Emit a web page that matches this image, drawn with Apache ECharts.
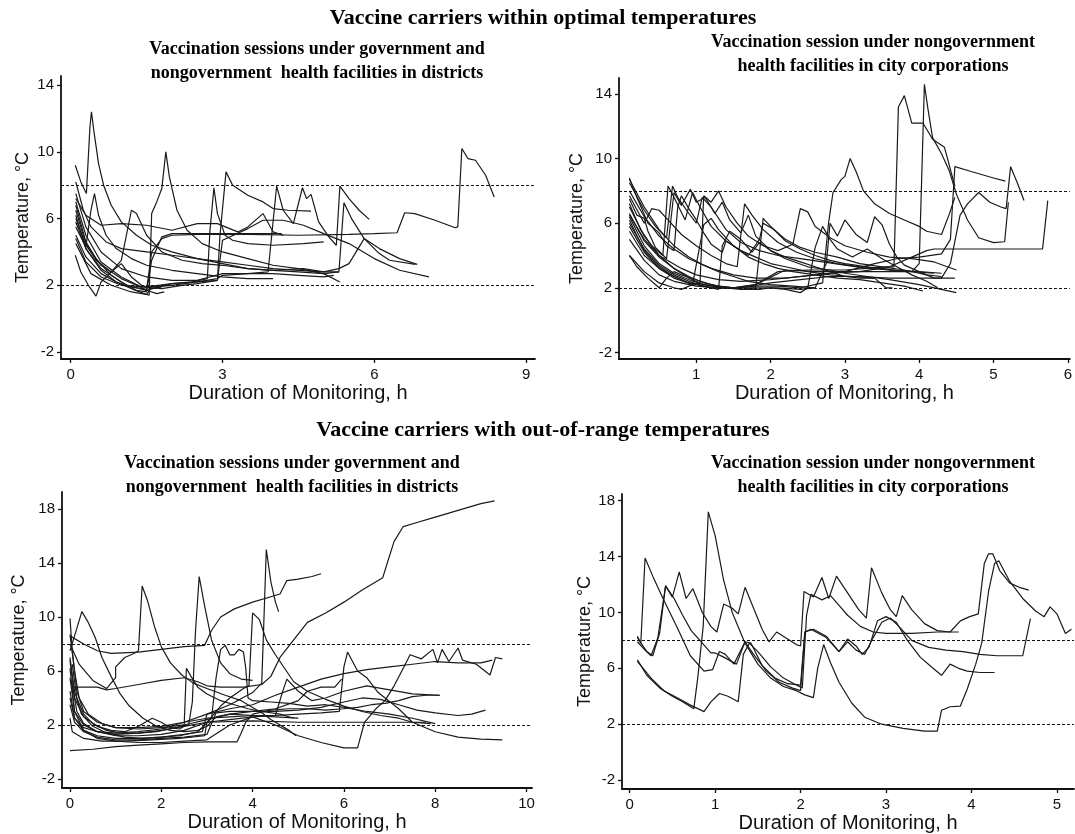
<!DOCTYPE html>
<html>
<head>
<meta charset="utf-8">
<script src="https://cdn.jsdelivr.net/npm/echarts@6/dist/echarts.min.js"></script>
<style>
  html, body { margin: 0; padding: 0; background: #fff; }
  #chart { width: 1075px; height: 834px; }
</style>
</head>
<body>
<div id="chart"></div>
<script>
// tick values per panel
const p1XTicks = [0, 3, 6, 9];
const p2XTicks = [1, 2, 3, 4, 5, 6];
const p3XTicks = [0, 2, 4, 6, 8, 10];
const p4XTicks = [0, 1, 2, 3, 4, 5];
const topYTicks = [-2, 2, 6, 10, 14];
const bottomYTicks = [-2, 2, 6, 10, 14, 18];
const limits = [8, 2];

// panel 1: within range, districts  [hours, temp]
const p1Lines = [
  [[0.09,3.8],[0.2,2.8],[0.35,2.0],[0.5,1.35],[0.6,2.2],[0.8,2.8],[1.0,3.3],[1.2,2.5],[1.4,2.0],[1.6,1.8],[1.8,1.9]],
  [[0.09,9.2],[0.2,8.2],[0.31,7.5],[0.38,11.5],[0.41,12.4],[0.46,11.2],[0.55,9.3],[0.65,8.0],[0.8,6.8],[1.0,5.8],[1.3,5.0],[1.6,4.4],[2.0,4.0],[2.5,3.6],[3.0,3.3],[3.5,3.0],[4.0,2.9],[4.5,2.8],[5.0,2.7],[5.3,2.8],[5.4,6.95],[5.55,6.0],[5.8,4.8],[6.1,3.9],[6.3,3.5],[6.81,3.25]],
  [[0.1,6.2],[0.3,4.2],[0.6,2.9],[0.9,2.2],[1.2,1.8],[1.45,1.5],[1.55,1.4],[1.6,6.3],[1.7,7.0],[1.8,7.8],[1.88,10.0],[1.95,8.5],[2.1,6.5],[2.3,5.3],[2.6,4.5],[3.0,4.0],[3.5,3.6],[4.0,3.2],[4.5,3.0],[5.0,2.7],[5.32,2.2]],
  [[0.1,7.0],[0.3,5.0],[0.6,3.4],[1.0,2.5],[1.4,1.9],[1.8,1.8],[2.2,2.0],[2.5,2.1],[2.9,2.3],[2.95,5.0],[3.07,8.8],[3.2,8.0],[3.5,7.4],[3.8,7.0],[4.0,6.6],[4.3,6.5],[4.75,6.45]],
  [[0.1,6.8],[0.3,4.6],[0.5,3.6],[0.8,2.6],[1.1,2.0],[1.5,1.7],[2.0,2.1],[2.4,2.2],[2.7,2.4],[2.75,5.2],[2.83,7.85],[2.9,6.3],[3.05,5.0],[3.2,4.7],[3.5,4.5],[4.0,4.4],[4.6,4.5],[5.0,4.6]],
  [[0.1,7.5],[0.3,5.5],[0.6,4.0],[1.0,3.0],[1.5,2.5],[2.0,2.3],[2.5,2.3],[3.0,2.7],[3.5,2.7],[3.9,2.8],[4.07,7.95],[4.2,6.5],[4.4,5.7],[4.58,7.85],[4.66,7.2],[4.75,7.45],[4.9,5.8],[5.1,4.9],[5.25,4.4],[5.32,7.95],[5.5,7.2],[5.7,6.5],[5.9,5.95]],
  [[0.1,5.0],[0.3,3.7],[0.6,2.7],[0.9,2.2],[1.2,1.9],[1.5,1.75],[1.6,4.0],[1.8,4.8],[2.0,5.0],[2.5,5.05],[3.5,5.05],[4.5,5.0],[5.5,5.05],[6.0,5.1],[6.45,5.15],[6.6,6.35],[6.8,6.3],[7.2,5.9],[7.6,5.45],[7.65,5.5],[7.73,10.2],[7.85,9.6],[8.0,9.5],[8.2,8.6],[8.37,7.3]],
  [[0.1,4.8],[0.3,3.4],[0.6,2.5],[1.0,2.0],[1.5,1.9],[2.0,2.1],[2.5,2.2],[2.9,2.3],[3.0,4.7],[3.5,5.4],[3.8,5.9],[4.2,5.9],[4.6,5.6],[5.0,5.1],[5.5,4.5],[6.0,3.6],[6.5,2.9],[7.08,2.5]],
  [[0.1,6.5],[0.3,4.5],[0.5,3.5],[0.8,2.8],[1.0,3.5],[1.2,6.5],[1.3,6.3],[1.5,5.0],[1.8,4.0],[2.2,3.5],[2.6,3.3],[3.0,3.2],[3.5,3.0],[4.0,2.9],[4.6,3.0],[5.0,2.8],[5.3,2.8]],
  [[0.1,5.5],[0.3,4.3],[0.4,6.5],[0.47,7.5],[0.55,6.2],[0.7,5.0],[0.9,4.2],[1.2,3.6],[1.5,3.2],[2.0,2.9],[2.5,2.7],[3.0,2.5],[3.5,2.4],[4.0,2.4]],
  [[0.1,7.2],[0.3,6.2],[0.6,5.6],[1.0,5.7],[1.5,5.6],[2.0,5.3],[2.5,5.7],[2.9,5.7],[3.3,5.2],[3.5,5.5],[3.8,6.3],[4.0,5.2],[4.2,5.0]],
  [[0.1,8.2],[0.25,6.5],[0.4,5.5],[0.7,4.6],[1.0,4.2],[1.5,4.0],[2.0,3.8],[2.5,3.6],[3.0,3.4],[3.5,3.2],[4.0,3.0],[4.5,2.9],[5.0,2.8],[5.3,3.0],[5.5,3.3],[5.8,4.8],[6.1,4.2],[6.5,3.6],[6.85,3.25]],
  [[0.1,5.8],[0.3,4.2],[0.6,3.0],[1.0,2.2],[1.3,1.7],[1.5,1.6],[1.6,3.5],[1.8,4.9],[2.0,5.1],[3.0,5.1],[4.17,5.1]],
  [[0.1,4.5],[0.4,2.7],[0.8,2.0],[1.2,1.6],[1.5,1.45],[1.6,1.9],[2.0,2.0],[2.5,2.2],[2.9,2.4],[3.0,2.6],[3.5,2.7],[4.0,2.7],[4.5,2.6],[5.0,2.5],[5.2,2.6]],
  [[0.1,6.0],[0.3,4.4],[0.6,3.2],[1.0,2.4],[1.3,2.0],[1.5,1.7],[1.7,1.5],[1.85,1.6]]
];

// panel 2: within range, city corporations
const p2Lines = [
  [[0.1,8.7],[0.3,7.0],[0.5,5.6],[0.7,4.6],[0.9,3.9],[1.1,3.4],[1.3,3.0],[1.5,2.7],[1.7,2.4],[2.0,2.2],[2.3,2.1],[2.6,2.0]],
  [[0.1,8.5],[0.3,6.8],[0.45,5.8],[0.6,5.1],[0.68,8.3],[0.75,7.6],[0.9,6.6],[1.0,6.0],[1.08,7.6],[1.2,7.0],[1.4,5.6],[1.6,4.8],[1.85,4.3],[2.1,4.0],[2.4,3.8],[2.7,3.6],[3.0,3.4],[3.3,3.2],[3.6,3.1],[3.9,3.0],[4.2,2.9]],
  [[0.1,7.7],[0.3,6.0],[0.4,6.9],[0.5,6.8],[0.6,6.3],[0.8,5.3],[1.0,4.6],[1.2,4.0],[1.4,3.5],[1.55,3.3],[1.65,7.2],[1.75,6.5],[1.9,5.6],[2.1,4.8],[2.35,4.2],[2.6,3.8],[2.9,3.5],[3.2,3.3],[3.5,3.2],[3.8,3.0]],
  [[0.1,7.2],[0.25,5.6],[0.4,4.6],[0.55,4.0],[0.62,8.3],[0.7,7.6],[0.85,6.2],[0.95,7.9],[1.05,7.0],[1.2,5.8],[1.4,4.9],[1.6,4.3],[1.8,3.9],[2.0,3.5],[2.2,3.3],[2.5,3.0],[2.8,2.8],[3.1,2.7],[3.4,2.6]],
  [[0.1,7.0],[0.3,5.2],[0.5,4.0],[0.7,3.2],[0.9,2.6],[1.05,2.3],[1.1,7.7],[1.2,7.3],[1.3,8.0],[1.4,7.0],[1.55,6.0],[1.7,5.2],[1.9,4.6],[2.1,4.3],[2.3,4.7],[2.4,6.9],[2.5,6.7],[2.6,5.8],[2.8,5.1],[3.0,4.6],[3.3,4.2],[3.6,3.9],[3.9,3.8],[4.2,3.6],[4.5,3.1]],
  [[0.1,6.6],[0.3,4.9],[0.5,3.9],[0.7,3.2],[0.9,2.7],[1.1,2.3],[1.3,2.1],[1.5,2.0],[1.65,1.9],[1.8,2.0],[1.9,6.3],[2.0,5.8],[2.2,4.9],[2.4,4.4],[2.6,4.0],[2.8,3.7],[3.0,3.5],[3.3,3.3],[3.6,3.1],[4.0,3.0],[4.3,2.9]],
  [[0.1,6.4],[0.3,4.6],[0.5,3.5],[0.7,2.9],[0.9,2.5],[1.1,2.2],[1.3,2.1],[1.5,2.0],[1.8,2.0],[2.1,2.0],[2.4,1.9],[2.6,2.0],[2.75,3.5],[2.8,6.0],[2.9,5.2],[3.0,6.2],[3.15,5.3],[3.3,4.8],[3.4,6.4],[3.5,5.9],[3.6,4.7],[3.7,3.9],[3.8,3.4],[4.0,3.0],[4.2,2.6],[4.48,2.6]],
  [[0.1,6.2],[0.3,4.3],[0.5,3.3],[0.7,2.7],[0.9,2.3],[1.2,2.0],[1.5,2.0],[1.8,2.1],[2.1,2.1],[2.4,2.0],[2.7,2.3],[2.78,6.0],[2.84,7.9],[2.95,8.7],[3.0,8.9],[3.07,10.0],[3.15,9.2],[3.25,8.0],[3.4,7.2],[3.6,6.6],[3.8,6.2],[4.0,5.8],[4.1,5.5],[4.3,5.3],[4.4,6.5],[4.48,7.6]],
  [[0.1,5.5],[0.3,4.0],[0.5,3.2],[0.7,2.7],[0.9,2.3],[1.2,2.0],[1.5,2.0],[1.8,2.2],[2.1,3.0],[2.5,3.1],[3.0,3.1],[3.3,3.2],[3.55,3.3],[3.66,3.3],[3.72,13.2],[3.8,13.9],[3.9,12.2],[4.05,12.2],[4.18,11.2],[4.34,10.7],[4.48,8.3]],
  [[0.1,4.0],[0.3,3.0],[0.5,2.3],[0.7,2.0],[0.8,1.9],[1.0,2.3],[1.2,2.1],[1.5,2.0],[1.8,2.2],[2.2,3.1],[2.6,3.0],[3.0,3.0],[3.5,3.0],[3.9,3.0],[4.0,3.5],[4.07,14.6],[4.12,13.0],[4.18,11.3],[4.3,10.3],[4.4,9.3],[4.5,7.8],[4.65,6.2],[4.8,5.1],[5.0,4.8],[5.15,4.85],[5.2,7.3]],
  [[0.1,8.0],[0.3,6.4],[0.5,5.2],[0.7,4.4],[0.9,3.8],[1.2,3.2],[1.5,2.8],[1.8,2.6],[2.2,2.6],[2.6,2.8],[3.0,3.0],[3.4,3.5],[3.7,3.8],[4.0,3.9],[4.3,4.1],[4.42,5.0],[4.48,9.5],[4.7,9.2],[5.0,8.8],[5.16,8.6]],
  [[0.1,6.5],[0.3,5.0],[0.5,4.0],[0.8,3.2],[1.0,2.8],[1.3,2.5],[1.6,2.4],[2.0,2.5],[2.4,2.7],[2.8,2.9],[3.2,3.0],[3.6,3.3],[3.9,3.9],[4.1,4.3],[4.2,4.4],[4.5,4.4],[5.0,4.4],[5.66,4.4],[5.73,7.4]],
  [[0.1,5.0],[0.3,3.7],[0.5,2.8],[0.7,2.4],[1.0,2.1],[1.3,2.0],[1.6,2.0],[2.0,2.3],[2.4,2.5],[2.8,2.7],[3.2,2.7],[3.6,2.6],[4.0,2.6],[4.3,2.6],[4.42,3.5],[4.55,6.5],[4.65,7.2],[4.8,7.9],[4.95,7.3],[5.1,7.0],[5.17,6.9],[5.23,9.5],[5.32,8.5],[5.41,7.4]],
  [[0.1,7.5],[0.2,6.5],[0.3,6.3],[0.35,5.5],[0.45,4.5],[0.6,3.8],[0.7,7.9],[0.8,7.1],[0.92,8.1],[1.0,7.3],[1.12,7.6],[1.25,6.6],[1.35,7.3],[1.45,6.2],[1.6,5.4],[1.7,6.5],[1.8,5.2],[2.0,4.3],[2.2,3.8],[2.5,3.3],[2.8,3.1],[3.0,2.9],[3.3,2.7],[3.6,2.5],[4.0,2.2],[4.5,1.7]],
  [[0.1,5.8],[0.3,4.2],[0.5,3.2],[0.7,2.6],[0.95,2.2],[1.1,5.9],[1.2,6.3],[1.3,5.6],[1.5,4.6],[1.7,3.9],[1.9,3.5],[2.1,3.2],[2.3,3.0],[2.6,2.8],[2.9,2.6],[3.2,2.5],[3.5,2.3],[3.8,2.1],[4.05,1.8]],
  [[0.1,6.0],[0.3,4.4],[0.5,3.4],[0.7,2.8],[0.9,2.4],[1.1,2.1],[1.3,1.9],[1.35,4.6],[1.45,5.5],[1.6,5.0],[1.75,4.2],[1.85,4.8],[2.0,4.3],[2.2,3.9],[2.4,3.6],[2.6,3.3],[2.8,3.0],[3.0,2.7],[3.2,2.6],[3.4,2.6],[3.55,2.0],[3.64,2.0]],
  [[0.1,4.0],[0.2,3.3],[0.35,2.6],[0.5,2.0],[0.6,2.6],[0.7,3.0],[0.8,2.8],[1.0,2.5],[1.2,2.2],[1.4,2.0],[1.6,1.9],[1.85,1.9],[2.0,2.0],[2.2,1.9],[2.4,1.7],[2.5,2.0],[2.6,4.5],[2.7,5.8],[2.8,5.0],[2.9,4.4],[3.1,3.9],[3.3,4.4],[3.5,3.8],[3.7,3.3],[3.9,2.8],[4.1,2.4],[4.25,2.0]],
  [[0.1,8.8],[0.2,7.6],[0.35,6.0],[0.5,5.4],[0.6,4.6],[0.7,4.3],[0.75,7.0],[0.8,7.7],[0.9,6.9],[1.0,6.2],[1.1,5.4],[1.2,4.7],[1.35,4.2],[1.4,4.9],[1.5,4.6],[1.7,4.0],[1.85,5.0],[1.9,6.0],[2.05,5.6],[2.2,5.0],[2.4,4.5],[2.6,4.2],[2.9,3.9],[3.2,3.5],[3.5,3.3],[3.8,3.1],[4.1,2.8],[4.3,2.7]]
];

// panel 3: out of range, districts
const p3Lines = [
  [[0.05,4.8],[0.3,4.8],[0.6,4.8],[0.8,4.6],[1.0,4.7],[1.5,5.0],[2.0,5.3],[2.5,5.5],[2.8,5.2],[3.0,4.9],[3.3,4.8],[3.8,4.8],[4.2,5.0],[4.4,5.6],[4.6,7.0],[4.9,8.3],[5.2,9.6],[5.6,10.3],[6.0,11.1],[6.4,12.0],[6.85,12.9],[6.95,14.0],[7.1,15.6],[7.3,16.7],[7.6,17.0],[8.0,17.4],[8.5,17.9],[9.0,18.4],[9.3,18.6]],
  [[0.0,8.6],[0.3,8.0],[0.6,7.5],[0.9,7.3],[1.5,7.4],[2.0,7.6],[2.5,7.8],[2.95,7.9],[3.1,9.0],[3.3,10.0],[3.6,10.6],[4.0,11.1],[4.4,11.5],[4.6,11.7],[4.75,12.7],[5.0,12.8],[5.3,13.0],[5.5,13.2]],
  [[0.0,7.5],[0.1,8.6],[0.26,10.4],[0.4,9.6],[0.55,8.5],[0.7,7.0],[0.9,5.6],[1.1,4.3],[1.3,3.4],[1.6,2.5],[1.9,1.9],[2.2,1.6],[2.5,1.5],[2.8,1.6],[3.0,1.9],[3.2,2.6],[3.5,2.8],[4.0,2.7],[4.5,2.6],[5.0,2.5]],
  [[0.0,8.0],[0.2,6.5],[0.5,5.3],[0.8,4.7],[1.0,5.5],[1.0,6.3],[1.2,7.0],[1.4,7.3],[1.5,7.5],[1.58,12.3],[1.7,11.2],[1.85,9.3],[2.0,7.8],[2.2,6.6],[2.45,5.7],[2.7,5.1],[3.0,4.7],[3.4,4.2],[3.75,3.8],[4.0,3.3],[4.2,2.9],[4.4,2.4],[4.6,2.0],[4.8,1.6],[4.95,1.2]],
  [[0.05,6.5],[0.15,4.0],[0.3,2.8],[0.5,2.1],[0.8,1.6],[1.1,1.4],[1.5,1.4],[1.9,1.5],[2.3,1.8],[2.6,2.0],[2.68,3.7],[2.75,9.0],[2.83,13.0],[2.95,10.8],[3.1,8.3],[3.3,6.6],[3.5,5.8],[3.75,5.4],[4.0,5.3]],
  [[0.0,8.7],[0.1,6.0],[0.2,4.0],[0.4,2.8],[0.7,2.1],[1.0,1.8],[1.5,1.8],[2.0,1.9],[2.5,2.2],[3.0,2.8],[3.5,3.5],[4.0,4.4],[4.2,5.1],[4.25,10.0],[4.3,15.0],[4.4,12.6],[4.5,11.1],[4.57,10.4]],
  [[0.05,5.0],[0.15,3.0],[0.3,2.1],[0.6,1.5],[1.0,1.2],[1.5,1.2],[2.0,1.3],[2.5,1.6],[3.0,2.2],[3.3,3.4],[3.5,4.0],[3.8,4.7],[3.92,4.9],[4.0,10.3],[4.15,9.8],[4.3,8.3],[4.5,7.2],[4.7,6.2],[4.9,5.2],[5.2,4.5],[5.6,3.9],[6.0,3.4],[6.4,3.0],[6.8,2.7],[7.2,2.5],[7.5,2.2],[7.9,2.1]],
  [[0.0,7.0],[0.1,4.5],[0.25,2.8],[0.5,1.9],[0.8,1.4],[1.2,1.1],[1.6,1.0],[2.0,1.1],[2.4,1.2],[2.8,1.5],[3.1,2.5],[3.2,5.5],[3.3,7.6],[3.4,7.9],[3.5,7.2],[3.6,7.2],[3.7,7.6],[3.8,7.4],[3.85,6.2],[3.9,4.0],[4.0,3.8],[4.4,3.7],[4.8,3.6],[5.2,3.4],[5.6,3.5],[6.0,3.3],[6.5,3.0],[7.0,2.8],[7.5,2.5],[8.0,2.1]],
  [[0.0,0.1],[0.5,0.2],[1.0,0.4],[1.5,0.5],[2.0,0.6],[2.5,0.7],[3.0,0.75],[3.66,0.75],[3.75,1.4],[3.85,2.2],[4.0,2.8],[4.4,3.1],[4.8,3.2],[5.2,3.2],[5.6,3.1],[6.0,3.2],[6.3,3.3],[6.6,3.5],[6.9,3.6],[7.2,3.8],[7.5,4.1],[7.8,4.2],[8.1,4.2]],
  [[0.0,6.2],[0.1,3.0],[0.3,1.6],[0.6,1.0],[1.0,0.8],[1.5,0.7],[2.0,0.7],[2.5,0.8],[3.0,0.9],[3.5,2.0],[4.0,2.6],[4.5,2.0],[5.0,1.2],[5.5,0.7],[6.0,0.3],[6.3,0.3],[6.45,2.2],[6.7,3.2],[6.9,3.8],[7.1,4.9],[7.3,6.2],[7.45,7.2],[7.7,6.9],[7.95,7.6],[8.05,6.6],[8.15,7.6],[8.3,6.7],[8.5,7.7],[8.6,6.8],[8.9,6.5],[9.2,5.7],[9.32,7.0],[9.47,6.9]],
  [[0.0,5.5],[0.1,3.0],[0.3,2.0],[0.6,1.5],[1.0,1.3],[1.5,1.4],[2.0,1.6],[2.5,1.9],[3.0,2.2],[3.5,2.4],[4.0,2.6],[4.5,2.7],[5.0,2.8],[5.5,2.9],[5.9,3.0],[6.0,6.3],[6.08,7.4],[6.3,6.0],[6.5,5.5],[6.75,4.4],[7.2,3.2],[7.5,2.2],[8.0,1.5],[8.5,1.1],[9.0,0.95],[9.47,0.9]],
  [[0.0,4.5],[0.1,2.5],[0.3,1.6],[0.6,1.2],[1.0,1.0],[1.5,1.0],[2.0,1.1],[2.5,1.3],[2.9,1.5],[3.0,2.8],[3.5,3.2],[4.0,3.5],[4.5,4.2],[5.0,4.8],[5.5,5.4],[6.0,5.8],[6.5,6.1],[7.0,6.3],[7.5,6.5],[8.0,6.7],[8.5,6.6],[9.0,6.6],[9.25,6.8]],
  [[0.0,4.0],[0.1,2.5],[0.3,1.8],[0.6,1.5],[1.0,1.4],[1.5,1.5],[2.0,1.7],[2.5,2.2],[3.0,2.5],[3.5,2.6],[4.0,2.7],[4.5,2.7],[4.65,4.4],[4.75,5.4],[5.0,4.5],[5.3,3.8],[5.6,4.0],[6.0,4.5],[6.5,4.9],[7.0,4.6],[7.5,4.3],[8.1,4.2]],
  [[0.0,3.5],[0.1,2.2],[0.3,1.5],[0.6,1.1],[1.0,0.9],[1.5,0.9],[2.0,1.0],[2.5,1.1],[3.0,1.3],[3.2,2.9],[3.5,3.0],[4.0,3.0],[4.5,3.0],[5.0,3.1],[5.5,3.3],[6.0,3.7],[6.4,4.0],[6.8,3.9],[7.2,3.5],[7.6,3.1],[8.0,2.9],[8.5,2.7],[8.8,2.8],[9.1,3.1]],
  [[0.0,2.5],[0.05,1.5],[0.3,1.0],[0.7,0.8],[1.2,0.8],[1.8,0.9],[2.4,1.0],[2.95,1.2],[3.0,2.2],[4.0,2.3],[5.0,2.2],[6.0,2.2],[7.0,2.2],[7.8,2.2]],
  [[0.0,9.9],[0.05,7.5],[0.15,4.5],[0.3,3.0],[0.6,2.2],[1.0,1.8],[1.5,1.7],[2.0,1.8],[2.5,2.0],[3.0,2.4],[3.5,2.8],[4.0,3.0],[4.5,3.2],[5.0,3.8],[5.2,4.5],[5.5,4.8],[5.8,4.8],[5.95,5.4]],
  [[0.0,6.8],[0.1,4.0],[0.3,2.6],[0.6,1.9],[0.9,1.6],[1.2,1.5],[1.5,1.9],[1.8,2.5],[2.0,2.2],[2.2,1.8],[2.4,1.7],[2.5,1.9],[2.55,6.2],[2.65,5.6],[2.8,4.8],[3.0,4.3],[3.3,3.8],[3.6,3.5],[3.9,3.2],[4.2,3.0],[4.6,2.8],[4.9,2.5]]
];

// panel 4: out of range, city corporations
const p4Lines = [
  [[0.09,8.3],[0.13,7.8],[0.18,13.9],[0.27,12.6],[0.39,11.0],[0.55,9.0],[0.71,6.9],[0.87,5.8],[0.97,5.9],[1.05,7.2],[1.12,7.0],[1.22,6.3],[1.35,7.9],[1.42,7.8],[1.55,6.2],[1.7,5.3],[1.85,4.9],[2.0,4.8],[2.05,8.6],[2.12,8.8],[2.3,8.2],[2.45,7.2],[2.55,8.1],[2.65,7.6],[2.72,7.0],[2.8,7.5],[2.9,9.4],[3.0,9.7],[3.12,9.3],[3.25,8.0],[3.4,6.8],[3.55,6.0],[3.65,5.5],[3.75,6.3],[3.85,6.0],[3.95,5.8],[4.1,5.7],[4.27,5.7]],
  [[0.09,7.9],[0.18,7.3],[0.25,6.9],[0.33,8.2],[0.42,11.9],[0.5,11.1],[0.58,12.9],[0.66,11.0],[0.74,11.7],[0.85,10.0],[0.95,9.0],[1.02,8.6],[1.1,10.6],[1.2,10.3],[1.27,9.9],[1.35,11.8],[1.45,10.3],[1.55,8.8],[1.63,7.9],[1.72,8.6],[1.82,8.2],[1.95,7.7],[2.0,7.6],[2.04,11.5],[2.15,11.1],[2.25,12.5],[2.33,11.0],[2.42,12.6],[2.55,11.4],[2.68,10.2],[2.77,9.6],[2.83,13.2],[2.95,11.4],[3.05,10.2],[3.12,9.7],[3.19,11.2],[3.3,10.2],[3.45,9.2],[3.6,8.7],[3.75,8.6],[3.87,9.4],[3.98,9.7],[4.08,9.9],[4.15,13.5],[4.2,14.2],[4.25,14.2],[4.33,13.0],[4.45,12.1],[4.56,11.8],[4.67,11.6]],
  [[0.09,6.6],[0.2,5.5],[0.35,4.6],[0.5,4.0],[0.62,3.6],[0.75,3.1],[0.8,5.5],[0.86,9.0],[0.92,17.2],[1.0,15.5],[1.1,12.3],[1.2,10.0],[1.35,7.8],[1.5,6.3],[1.65,5.3],[1.8,4.7],[1.95,4.4],[2.05,4.1],[2.15,3.9],[2.2,6.0],[2.27,7.7],[2.35,6.4],[2.45,5.0],[2.6,3.5],[2.75,2.5],[2.95,2.0],[3.2,1.7],[3.45,1.5],[3.6,1.5],[3.65,3.0],[3.75,3.25],[3.87,3.3],[3.95,4.5],[4.05,6.3],[4.12,7.8],[4.2,11.5],[4.27,13.5],[4.32,13.7],[4.45,12.2],[4.6,11.0],[4.75,10.1],[4.85,9.7],[4.92,10.4],[5.0,9.9],[5.1,8.5],[5.17,8.8]],
  [[0.09,6.5],[0.25,5.3],[0.4,4.4],[0.55,3.9],[0.7,3.4],[0.87,2.9],[0.95,3.6],[1.05,4.2],[1.15,4.0],[1.27,3.6],[1.33,7.0],[1.4,7.8],[1.5,7.2],[1.65,6.1],[1.8,5.3],[1.95,4.8],[2.02,4.6],[2.07,9.8],[2.12,11.3],[2.25,10.9],[2.35,11.2],[2.45,10.5],[2.55,9.8],[2.7,9.0],[2.85,8.6],[3.0,8.5],[3.3,8.5],[3.6,8.6],[3.85,8.6]],
  [[0.09,8.2],[0.2,7.2],[0.27,6.9],[0.35,8.5],[0.42,11.9],[0.52,11.0],[0.62,9.8],[0.72,8.7],[0.85,7.8],[0.95,7.1],[1.0,7.1],[1.1,6.8],[1.25,6.3],[1.35,7.9],[1.45,7.0],[1.6,5.8],[1.75,5.0],[1.9,4.6],[2.0,4.4],[2.05,8.6],[2.15,8.8],[2.3,8.3],[2.45,7.2],[2.55,7.9],[2.65,7.3],[2.75,7.0],[2.85,8.2],[2.95,9.3],[3.05,9.6],[3.15,9.0],[3.3,8.0],[3.5,7.5],[3.7,7.3],[3.9,7.2],[4.1,7.0],[4.3,6.9],[4.6,6.9],[4.69,9.55]]
];

const panels = [
  { lines: p1Lines, xTicks: p1XTicks, yTicks: topYTicks, grid: { left: 61, top: 76, width: 474, height: 283 }, x: [-0.192, 9.176], y: [-2.42, 14.55], yGap: 29 },
  { lines: p2Lines, xTicks: p2XTicks, yTicks: topYTicks, grid: { left: 619, top: 78, width: 455, height: 281 }, x: [-0.04, 6.027], y: [-2.41, 14.99], yGap: 33 },
  { lines: p3Lines, xTicks: p3XTicks, yTicks: bottomYTicks, grid: { left: 62, top: 492, width: 470, height: 296 }, x: [-0.175, 10.12], y: [-2.67, 19.26], yGap: 34 },
  { lines: p4Lines, xTicks: p4XTicks, yTicks: bottomYTicks, grid: { left: 622, top: 494, width: 452, height: 295 }, x: [-0.09, 5.2], y: [-2.64, 18.48], yGap: 27 }
];

const black = '#111';
const sans = '"Liberation Sans", Arial, sans-serif';
const serif = '"Liberation Serif", "Times New Roman", serif';

let grids = [], xAxes = [], yAxes = [], series = [];
panels.forEach((p, i) => {
  grids.push(p.grid);
  xAxes.push({
    type: 'value', gridIndex: i, min: p.x[0], max: p.x[1],
    name: 'Duration of Monitoring, h', nameLocation: 'middle', nameGap: 24,
    nameTextStyle: { color: black, fontSize: 20, fontFamily: sans },
    axisLine: { onZero: false, lineStyle: { color: black, width: 1.8 } },
    axisTick: { show: true, customValues: p.xTicks, length: 4, lineStyle: { color: black, width: 1.3 } },
    axisLabel: { customValues: p.xTicks, color: black, fontSize: 15, fontFamily: sans, margin: 8 },
    splitLine: { show: false }
  });
  yAxes.push({
    type: 'value', gridIndex: i, min: p.y[0], max: p.y[1],
    name: 'Temperature, °C', nameLocation: 'middle', nameGap: p.yGap,
    nameTextStyle: { color: black, fontSize: 18, fontFamily: sans },
    axisLine: { show: true, onZero: false, lineStyle: { color: black, width: 1.8 } },
    axisTick: { show: true, customValues: p.yTicks, length: 4, lineStyle: { color: black, width: 1.3 } },
    axisLabel: { customValues: p.yTicks, color: black, fontSize: 15, fontFamily: sans, margin: 7 },
    splitLine: { show: false }
  });
  p.lines.forEach((d, k) => {
    let s = {
      type: 'line', xAxisIndex: i, yAxisIndex: i, data: d,
      symbol: 'none', showSymbol: false, silent: true,
      lineStyle: { color: '#1a1a1a', width: 1.2 }
    };
    if (k === 0) {
      s.markLine = {
        silent: true, symbol: 'none', label: { show: false },
        lineStyle: { color: black, width: 1.1, type: [3, 2] },
        data: limits.map(v => ({ yAxis: v }))
      };
    }
    series.push(s);
  });
});

const titleFont = { fontFamily: serif, fontWeight: 'bold', fill: '#000' };
function txt(x, y, text, size) {
  return { type: 'text', x: x, y: y, style: Object.assign({ text: text, fontSize: size, align: 'center', verticalAlign: 'middle' }, titleFont) };
}

let mychart = echarts.init(document.getElementById('chart'));
mychart.setOption({
  animation: false,
  backgroundColor: '#fff',
  grid: grids,
  xAxis: xAxes,
  yAxis: yAxes,
  series: series,
  graphic: [
    txt(543, 18, 'Vaccine carriers within optimal temperatures', 22),
    txt(317, 49, 'Vaccination sessions under government and', 18),
    txt(317, 73, 'nongovernment  health facilities in districts', 18),
    txt(873, 42, 'Vaccination session under nongovernment', 18),
    txt(873, 66, 'health facilities in city corporations', 18),
    txt(543, 430, 'Vaccine carriers with out-of-range temperatures', 22),
    txt(292, 463, 'Vaccination sessions under government and', 18),
    txt(292, 487, 'nongovernment  health facilities in districts', 18),
    txt(873, 463, 'Vaccination session under nongovernment', 18),
    txt(873, 487, 'health facilities in city corporations', 18)
  ]
});
</script>
</body>
</html>
